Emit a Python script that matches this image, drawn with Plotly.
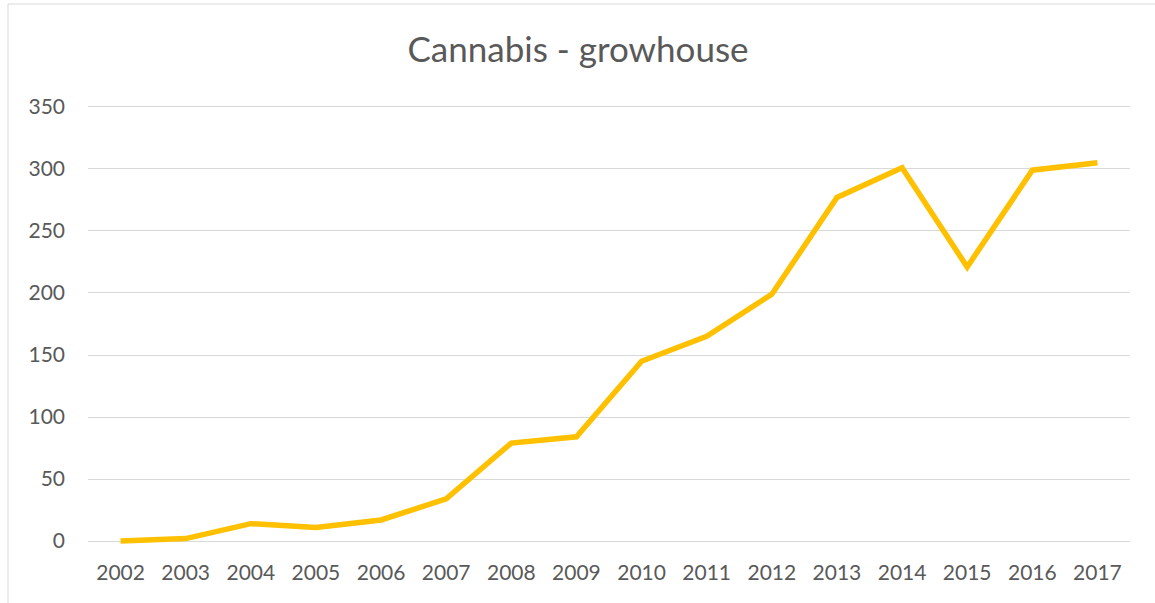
import plotly.graph_objects as go

years = ["2002", "2003", "2004", "2005", "2006", "2007", "2008", "2009",
         "2010", "2011", "2012", "2013", "2014", "2015", "2016", "2017"]
values = [0, 2, 14, 11, 17, 34, 79, 84, 145, 165, 199, 277, 301, 221, 299, 305]
y_ticks = [0, 50, 100, 150, 200, 250, 300, 350]

W, H = 1155, 603
L, R, T, B = 88, 25, 102, 57

fig = go.Figure()
fig.add_trace(go.Scatter(
    x=years, y=values, mode="lines",
    line=dict(color="#FFC000", width=5.5),
    hoverinfo="x+y",
))

pw = W - L - R
ph = H - T - B
# chart-area border (light gray), extends past right/bottom of the view
fig.add_shape(type="rect", xref="paper", yref="paper",
              x0=(8 - L) / pw, x1=(W + 20 - L) / pw,
              y0=(H - B - (H + 20)) / ph, y1=(H - B - 4) / ph,
              line=dict(color="#D9D9D9", width=1), fillcolor="rgba(0,0,0,0)",
              layer="below")

fig.update_layout(
    width=W, height=H,
    margin=dict(l=L, r=R, t=T, b=B),
    paper_bgcolor="white", plot_bgcolor="white",
    showlegend=False,
    font=dict(family="Lato, Open Sans, sans-serif", color="#595959"),
    title=dict(text="Cannabis - growhouse", x=578 / W, xanchor="center",
               y=1 - 50 / H, yanchor="middle",
               font=dict(size=35, color="#595959", family="Lato, Open Sans, sans-serif")),
    xaxis=dict(
        type="category", range=[-0.5, 15.5],
        showgrid=False, showline=False, zeroline=False, ticks="",
        tickfont=dict(size=21, color="#595959"),
        ticklabelstandoff=12,
    ),
    yaxis=dict(
        range=[-4, 354], tickvals=y_ticks,
        showgrid=True, gridcolor="#D9D9D9", gridwidth=1,
        zeroline=False, showline=False, ticks="",
        tickfont=dict(size=21, color="#595959"),
        ticklabelstandoff=22,
    ),
)

fig.write_html("out.html")
